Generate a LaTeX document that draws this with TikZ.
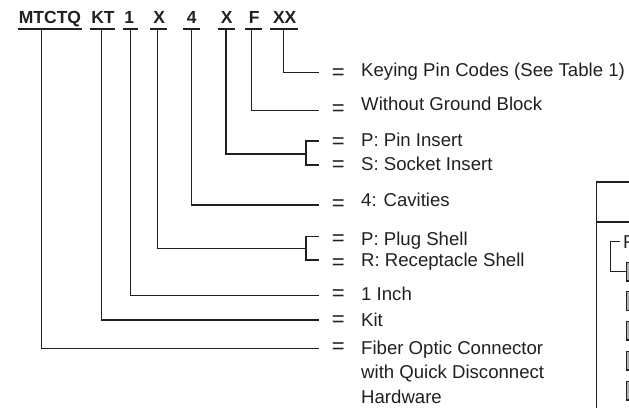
\documentclass[tikz,border=0pt]{standalone}
\usepackage{fontspec}
\setmainfont{Liberation Sans}
\definecolor{linec}{HTML}{231F20}
\definecolor{keyfill}{HTML}{B0B0B0}
\begin{document}
\begin{tikzpicture}[x=1pt,y=-1pt,
  ln/.style={line width=1.1pt, draw=linec},
  code/.style={font=\bfseries\fontsize{17.5}{20}\selectfont, inner sep=0pt, anchor=base, text=linec},
  eqs/.style={font=\fontsize{22}{24}\selectfont, inner sep=0pt, anchor=center, text=linec},
  desc/.style={font=\fontsize{18.6}{24.5}\selectfont, inner sep=0pt, anchor=base west, align=left, text=linec},
  keybox/.style={line width=1.4pt, draw=linec, fill=keyfill, inner sep=0pt, minimum width=12pt, minimum height=18.5pt, anchor=north west}]
\useasboundingbox (0,0) rectangle (629,407);

% code letters
\node[code] (c1) at (50,23.5) {MTCTQ};
\node[code] (c2) at (103,23.5) {KT};
\node[code] (c3) at (129.3,23.5) {1};
\node[code] (c4) at (159.2,23.5) {X};
\node[code] (c5) at (191.7,23.5) {4};
\node[code] (c6) at (226.7,23.5) {X};
\node[code] (c7) at (254.2,23.5) {F};
\node[code] (c8) at (284.7,23.5) {XX};

% underlines
\draw[ln] (18,29) -- (82,29);
\draw[ln] (90,29) -- (115,29);
\draw[ln] (123.3,29) -- (138.3,29);
\draw[ln] (150,29) -- (166.7,29);
\draw[ln] (183.3,29) -- (200,29);
\draw[ln] (218.3,29) -- (235,29);
\draw[ln] (245,29) -- (261.7,29);
\draw[ln] (270,29) -- (298.3,29);

% connector start points
\coordinate (u1) at (41.7,29);
\coordinate (u2) at (101.7,29);
\coordinate (u3) at (130.7,29);
\coordinate (u4) at (157.5,29);
\coordinate (u5) at (191.7,29);
\coordinate (u6) at (226,29);
\coordinate (u7) at (251.7,29);
\coordinate (u8) at (283.3,29);

% connector end points
\coordinate (h1) at (318.5,348.3);
\coordinate (h2) at (318.5,320);
\coordinate (h3) at (318.5,295.5);
\coordinate (h4) at (306,248.3);
\coordinate (h5) at (318.5,205);
\coordinate (h6) at (306,154);
\coordinate (h7) at (318.5,110.7);
\coordinate (h8) at (318.5,72.7);

\draw[ln] (u1) |- (h1);
\draw[ln] (u2) |- (h2);
\draw[ln] (u3) |- (h3);
\draw[ln] (u4) |- (h4);
\draw[ln] (u5) |- (h5);
\draw[ln] (u6) |- (h6);
\draw[ln] (u7) |- (h7);
\draw[ln] (u8) |- (h8);

% brackets
\draw[ln] (318.5,141) -- (306,141) -- (306,165) -- (318.5,165);
\draw[ln] (318.5,236.7) -- (306,236.7) -- (306,260) -- (318.5,260);

% equals signs
\node[eqs] (e1) at (338.3,74) {=};
\node[eqs] (e2) at (338.3,110.3) {=};
\node[eqs] (e3) at (338.3,143) {=};
\node[eqs] (e4) at (338.3,166.3) {=};
\node[eqs] (e5) at (338.3,205) {=};
\node[eqs] (e6) at (338.3,240.3) {=};
\node[eqs] (e7) at (338.3,263.7) {=};
\node[eqs] (e8) at (338.3,295) {=};
\node[eqs] (e9) at (338.3,321) {=};
\node[eqs] (e10) at (338.3,348.3) {=};

% descriptions
\node[desc] (t1) at (361,76.7) {Keying Pin Codes (See Table 1)};
\node[desc] (t2) at (361,110) {Without Ground Block};
\node[desc] (t3) at (361,146.7) {P: Pin Insert};
\node[desc] (t4) at (361,170) {S: Socket Insert};
\node[desc] (t5) at (361,206) {4: Cavities};
\node[desc] (t6) at (361,245) {P: Plug Shell};
\node[desc] (t7) at (361,266.7) {R: Receptacle Shell};
\node[desc] (t8) at (361,300.7) {1 Inch};
\node[desc] (t9) at (361,326.7) {Kit};
\node[desc] (t10) at (361,403.4) {Fiber Optic Connector\\with Quick Disconnect\\Hardware};

% partial table at right
\begin{scope}
\clip (0,0) rectangle (629,407);
\draw[ln] (640,182) -- (596.7,182) -- (596.7,420);
\draw[ln] (596.7,222) -- (640,222);
\node[desc] (tf) at (622.8,248.3) {F};
\node[keybox] (k1) at (625.5,261.7) {};
\node[keybox] (k2) at (625.5,291) {};
\node[keybox] (k3) at (625.5,320.7) {};
\node[keybox] (k4) at (625.5,350.7) {};
\node[keybox] (k5) at (625.5,380.7) {};
\coordinate (bt) at (620,241.7);
\draw[ln] (bt) -- (610.7,241.7) |- (k1.west);
\end{scope}
\end{tikzpicture}
\end{document}
